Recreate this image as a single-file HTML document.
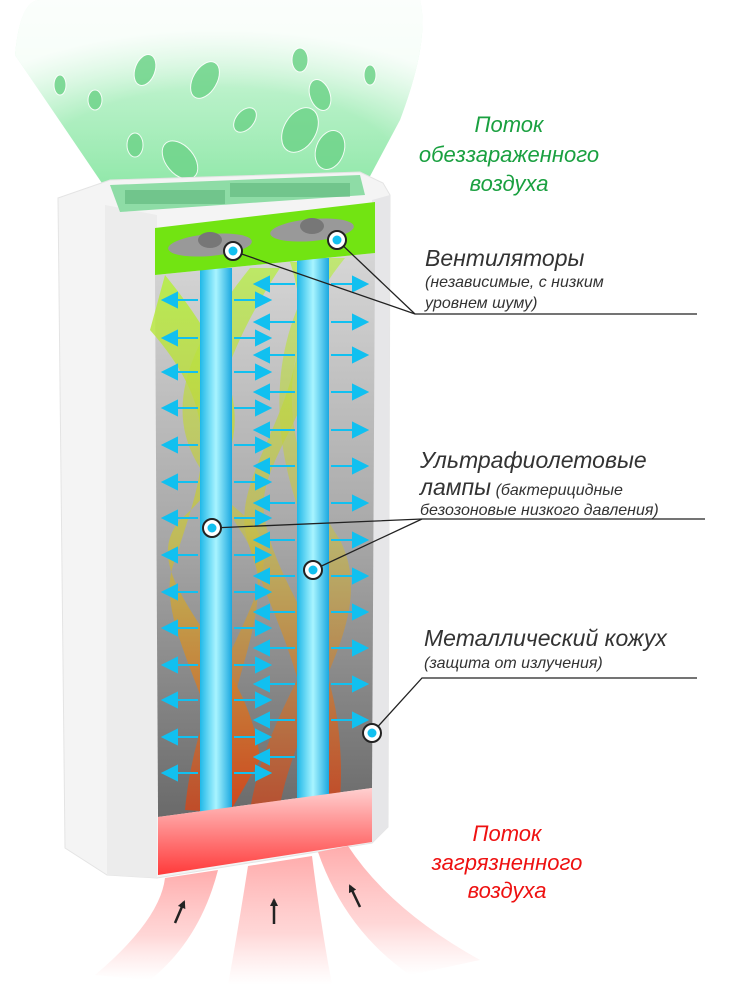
<!DOCTYPE html>
<html><head><meta charset="utf-8"><style>
html,body{margin:0;padding:0;background:#fff;}
svg{display:block;}
text{font-family:"Liberation Sans","DejaVu Sans",sans-serif;font-style:italic;}
</style></head><body>
<svg width="740" height="992" viewBox="0 0 740 992" xmlns="http://www.w3.org/2000/svg">
<defs>
<linearGradient id="gglow" x1="0" y1="0" x2="0" y2="1">
<stop offset="0" stop-color="#c8f4d4" stop-opacity="0.5"/>
<stop offset="0.5" stop-color="#9eecb4" stop-opacity="0.75"/>
<stop offset="1" stop-color="#80e49c" stop-opacity="0.9"/>
</linearGradient>
<radialGradient id="gfade" cx="0.5" cy="0.9" r="0.75">
<stop offset="0.6" stop-color="#fff" stop-opacity="0"/>
<stop offset="1" stop-color="#fff" stop-opacity="0.85"/>
</radialGradient>
<linearGradient id="chamber" x1="0" y1="0" x2="0" y2="1">
<stop offset="0" stop-color="#d6d6d6"/>
<stop offset="0.5" stop-color="#a8a8a8"/>
<stop offset="1" stop-color="#6a6a6a"/>
</linearGradient>
<linearGradient id="lamp" x1="0" y1="0" x2="1" y2="0">
<stop offset="0" stop-color="#1fb8e8"/>
<stop offset="0.5" stop-color="#a8f4ff"/>
<stop offset="1" stop-color="#1aa8e0"/>
</linearGradient>
<linearGradient id="red" x1="0" y1="0" x2="0" y2="1">
<stop offset="0" stop-color="#ffd0d0"/>
<stop offset="1" stop-color="#ff3a3a"/>
</linearGradient>
<linearGradient id="plume" x1="0" y1="0" x2="0" y2="1">
<stop offset="0" stop-color="#ffa8a8" stop-opacity="0.95"/>
<stop offset="0.6" stop-color="#ffbcbc" stop-opacity="0.6"/>
<stop offset="1" stop-color="#ffd0d0" stop-opacity="0"/>
</linearGradient>
<linearGradient id="helixG" x1="0" y1="0" x2="0" y2="1">
<stop offset="0" stop-color="#b4f03c" stop-opacity="0.85"/>
<stop offset="0.5" stop-color="#c8c040" stop-opacity="0.75"/>
<stop offset="1" stop-color="#e04010" stop-opacity="0.85"/>
</linearGradient>
<marker id="ah" markerWidth="8" markerHeight="8" refX="6" refY="4" orient="auto" markerUnits="userSpaceOnUse"><path d="M0,0 L8,4 L0,8 Z" fill="#222"/></marker>
</defs>

<!-- top green glow -->
<path d="M15,55 Q20,0 40,0 L420,0 Q430,40 400,120 L360,195 L110,195 Z" fill="url(#gglow)"/>
<path d="M15,55 Q20,0 40,0 L420,0 Q430,40 400,120 L360,195 L110,195 Z" fill="url(#gfade)"/>
<!-- leaves -->
<g fill="#6fd48a" opacity="0.85" stroke="#fff" stroke-width="1">
<ellipse cx="145" cy="70" rx="10" ry="16" transform="rotate(20 145 70)"/>
<ellipse cx="205" cy="80" rx="12" ry="20" transform="rotate(30 205 80)"/>
<ellipse cx="300" cy="60" rx="8" ry="12"/>
<ellipse cx="320" cy="95" rx="10" ry="16" transform="rotate(-20 320 95)"/>
<ellipse cx="180" cy="160" rx="14" ry="22" transform="rotate(-40 180 160)"/>
<ellipse cx="300" cy="130" rx="16" ry="24" transform="rotate(30 300 130)"/>
<ellipse cx="330" cy="150" rx="14" ry="20" transform="rotate(20 330 150)"/>
<ellipse cx="95" cy="100" rx="7" ry="10"/>
<ellipse cx="245" cy="120" rx="9" ry="14" transform="rotate(40 245 120)"/>
<ellipse cx="135" cy="145" rx="8" ry="12"/>
<ellipse cx="60" cy="85" rx="6" ry="10"/>
<ellipse cx="370" cy="75" rx="6" ry="10"/>
</g>

<!-- body -->
<path d="M58,198 L110,180 L360,172 L383,183 L390,195 L388,827 L372,843 L157,878 L107,875 L65,848 Z" fill="#f4f4f4" stroke="#e4e4e4"/>
<path d="M105,205 L157,215 L157,878 L107,875 Z" fill="#ececec"/>
<path d="M372,200 L390,195 L388,827 L372,843 Z" fill="#e6e6e8"/>
<!-- vent grille -->
<path d="M110,185 L360,175 L365,195 L120,212 Z" fill="#8edca6"/>
<g fill="#3c9c5c">
<rect x="125" y="190" width="100" height="14" opacity="0.35"/>
<rect x="230" y="183" width="120" height="14" opacity="0.35"/>
</g>
<!-- chamber -->
<path d="M155,275 L375,253 L372,788 L158,817 Z" fill="url(#chamber)"/>
<!-- helix bands -->
<g fill="url(#helixG)">
<path d="M165,275 C250,380 260,450 180,520 C130,580 250,650 260,760 L230,812 C220,700 150,620 175,560 C200,480 230,420 150,330 Z"/>
<path d="M250,268 C160,380 160,450 250,520 C300,580 200,650 185,810 L215,812 C220,680 290,600 240,530 C200,470 200,390 280,268 Z" opacity="0.85"/>
<path d="M305,262 C360,380 250,450 265,520 C280,600 350,650 340,800 L310,800 C320,680 260,600 245,530 C235,460 330,380 290,262 Z" opacity="0.85"/>
<path d="M345,258 C270,350 280,450 340,540 C380,620 300,700 280,805 L250,810 C270,690 350,630 320,560 C270,460 260,350 325,258 Z" opacity="0.75"/>
</g>
<!-- lamps -->
<rect x="200" y="268" width="32" height="544" fill="url(#lamp)"/>
<rect x="297" y="258" width="32" height="542" fill="url(#lamp)"/>
<!-- fan panel -->
<path d="M155,228 L375,202 L375,253 L155,275 Z" fill="#72e412"/>
<ellipse cx="210" cy="245" rx="42" ry="11" fill="#999" transform="rotate(-5 210 245)"/>
<ellipse cx="210" cy="240" rx="12" ry="8" fill="#777"/>
<ellipse cx="312" cy="230" rx="42" ry="11" fill="#999" transform="rotate(-5 312 230)"/>
<ellipse cx="312" cy="226" rx="12" ry="8" fill="#777"/>
<!-- red bottom -->
<path d="M158,817 L372,788 L372,842 L158,875 Z" fill="url(#red)"/>
<!-- arrows -->
<g fill="#11c0f0" stroke="#11c0f0" stroke-width="2">
<path d="M198,300 H170"/><path d="M163,300 l14,-7 v14z"/>
<path d="M234,300 H262"/><path d="M270,300 l-14,-7 v14z"/>
<path d="M198,338 H170"/><path d="M163,338 l14,-7 v14z"/>
<path d="M234,338 H262"/><path d="M270,338 l-14,-7 v14z"/>
<path d="M198,372 H170"/><path d="M163,372 l14,-7 v14z"/>
<path d="M234,372 H262"/><path d="M270,372 l-14,-7 v14z"/>
<path d="M198,408 H170"/><path d="M163,408 l14,-7 v14z"/>
<path d="M234,408 H262"/><path d="M270,408 l-14,-7 v14z"/>
<path d="M198,445 H170"/><path d="M163,445 l14,-7 v14z"/>
<path d="M234,445 H262"/><path d="M270,445 l-14,-7 v14z"/>
<path d="M198,482 H170"/><path d="M163,482 l14,-7 v14z"/>
<path d="M234,482 H262"/><path d="M270,482 l-14,-7 v14z"/>
<path d="M198,518 H170"/><path d="M163,518 l14,-7 v14z"/>
<path d="M234,518 H262"/><path d="M270,518 l-14,-7 v14z"/>
<path d="M198,555 H170"/><path d="M163,555 l14,-7 v14z"/>
<path d="M234,555 H262"/><path d="M270,555 l-14,-7 v14z"/>
<path d="M198,592 H170"/><path d="M163,592 l14,-7 v14z"/>
<path d="M234,592 H262"/><path d="M270,592 l-14,-7 v14z"/>
<path d="M198,628 H170"/><path d="M163,628 l14,-7 v14z"/>
<path d="M234,628 H262"/><path d="M270,628 l-14,-7 v14z"/>
<path d="M198,665 H170"/><path d="M163,665 l14,-7 v14z"/>
<path d="M234,665 H262"/><path d="M270,665 l-14,-7 v14z"/>
<path d="M198,700 H170"/><path d="M163,700 l14,-7 v14z"/>
<path d="M234,700 H262"/><path d="M270,700 l-14,-7 v14z"/>
<path d="M198,737 H170"/><path d="M163,737 l14,-7 v14z"/>
<path d="M234,737 H262"/><path d="M270,737 l-14,-7 v14z"/>
<path d="M198,773 H170"/><path d="M163,773 l14,-7 v14z"/>
<path d="M234,773 H262"/><path d="M270,773 l-14,-7 v14z"/>
<path d="M295,284 H262"/><path d="M255,284 l14,-7 v14z"/>
<path d="M331,284 H360"/><path d="M367,284 l-14,-7 v14z"/>
<path d="M295,322 H262"/><path d="M255,322 l14,-7 v14z"/>
<path d="M331,322 H360"/><path d="M367,322 l-14,-7 v14z"/>
<path d="M295,355 H262"/><path d="M255,355 l14,-7 v14z"/>
<path d="M331,355 H360"/><path d="M367,355 l-14,-7 v14z"/>
<path d="M295,392 H262"/><path d="M255,392 l14,-7 v14z"/>
<path d="M331,392 H360"/><path d="M367,392 l-14,-7 v14z"/>
<path d="M295,430 H262"/><path d="M255,430 l14,-7 v14z"/>
<path d="M331,430 H360"/><path d="M367,430 l-14,-7 v14z"/>
<path d="M295,466 H262"/><path d="M255,466 l14,-7 v14z"/>
<path d="M331,466 H360"/><path d="M367,466 l-14,-7 v14z"/>
<path d="M295,503 H262"/><path d="M255,503 l14,-7 v14z"/>
<path d="M331,503 H360"/><path d="M367,503 l-14,-7 v14z"/>
<path d="M295,540 H262"/><path d="M255,540 l14,-7 v14z"/>
<path d="M331,540 H360"/><path d="M367,540 l-14,-7 v14z"/>
<path d="M295,576 H262"/><path d="M255,576 l14,-7 v14z"/>
<path d="M331,576 H360"/><path d="M367,576 l-14,-7 v14z"/>
<path d="M295,612 H262"/><path d="M255,612 l14,-7 v14z"/>
<path d="M331,612 H360"/><path d="M367,612 l-14,-7 v14z"/>
<path d="M295,648 H262"/><path d="M255,648 l14,-7 v14z"/>
<path d="M331,648 H360"/><path d="M367,648 l-14,-7 v14z"/>
<path d="M295,684 H262"/><path d="M255,684 l14,-7 v14z"/>
<path d="M331,684 H360"/><path d="M367,684 l-14,-7 v14z"/>
<path d="M295,720 H262"/><path d="M255,720 l14,-7 v14z"/>
<path d="M331,720 H360"/><path d="M367,720 l-14,-7 v14z"/>
<path d="M295,757 H262"/><path d="M255,757 l14,-7 v14z"/>
</g>

<!-- red plumes -->
<path d="M218,870 Q200,940 150,980 L95,975 Q160,920 165,878 Z" fill="url(#plume)"/>
<path d="M248,866 Q238,930 228,985 L332,985 Q320,920 312,856 Z" fill="url(#plume)"/>
<path d="M318,852 Q345,930 410,975 L480,960 Q390,910 348,846 Z" fill="url(#plume)"/>
<g stroke="#222" stroke-width="2.5" marker-end="url(#ah)">
<line x1="175" y1="923" x2="184" y2="902"/>
<line x1="274" y1="924" x2="274" y2="900"/>
<line x1="360" y1="907" x2="350" y2="886"/>
</g>

<!-- leader lines -->
<g stroke="#222" stroke-width="1.3" fill="none">
<polyline points="233,251 415,314 697,314"/>
<line x1="337" y1="240" x2="415" y2="314"/>
<polyline points="212,528 422,519 705,519"/>
<line x1="313" y1="570" x2="422" y2="519"/>
<polyline points="372,733 422,678 697,678"/>
</g>
<g stroke="#222" stroke-width="2" fill="#fff">
<circle cx="233" cy="251" r="9"/><circle cx="337" cy="240" r="9"/>
<circle cx="212" cy="528" r="9"/><circle cx="313" cy="570" r="9"/>
<circle cx="372" cy="733" r="9"/>
</g>
<g fill="#11c0f0">
<circle cx="233" cy="251" r="4.5"/><circle cx="337" cy="240" r="4.5"/>
<circle cx="212" cy="528" r="4.5"/><circle cx="313" cy="570" r="4.5"/>
<circle cx="372" cy="733" r="4.5"/>
</g>

<!-- text -->
<g fill="#1aa040" font-size="22" text-anchor="middle">
<text x="509" y="132">Поток</text>
<text x="509" y="162">обеззараженного</text>
<text x="509" y="191">воздуха</text>
</g>
<g fill="#333">
<text x="425" y="266" font-size="23">Вентиляторы</text>
<text x="425" y="287" font-size="16">(независимые, с низким</text>
<text x="425" y="308" font-size="16">уровнем шуму)</text>
<text x="420" y="468" font-size="23">Ультрафиолетовые</text>
<text x="420" y="495"><tspan font-size="23">лампы</tspan><tspan font-size="16"> (бактерицидные</tspan></text>
<text x="420" y="515" font-size="16">безозоновые  низкого давления)</text>
<text x="424" y="646" font-size="23">Металлический кожух</text>
<text x="424" y="668" font-size="16">(защита от излучения)</text>
</g>
<g fill="#ee1111" font-size="22" text-anchor="middle">
<text x="507" y="841">Поток</text>
<text x="507" y="870">загрязненного</text>
<text x="507" y="898">воздуха</text>
</g>
</svg>
</body></html>
